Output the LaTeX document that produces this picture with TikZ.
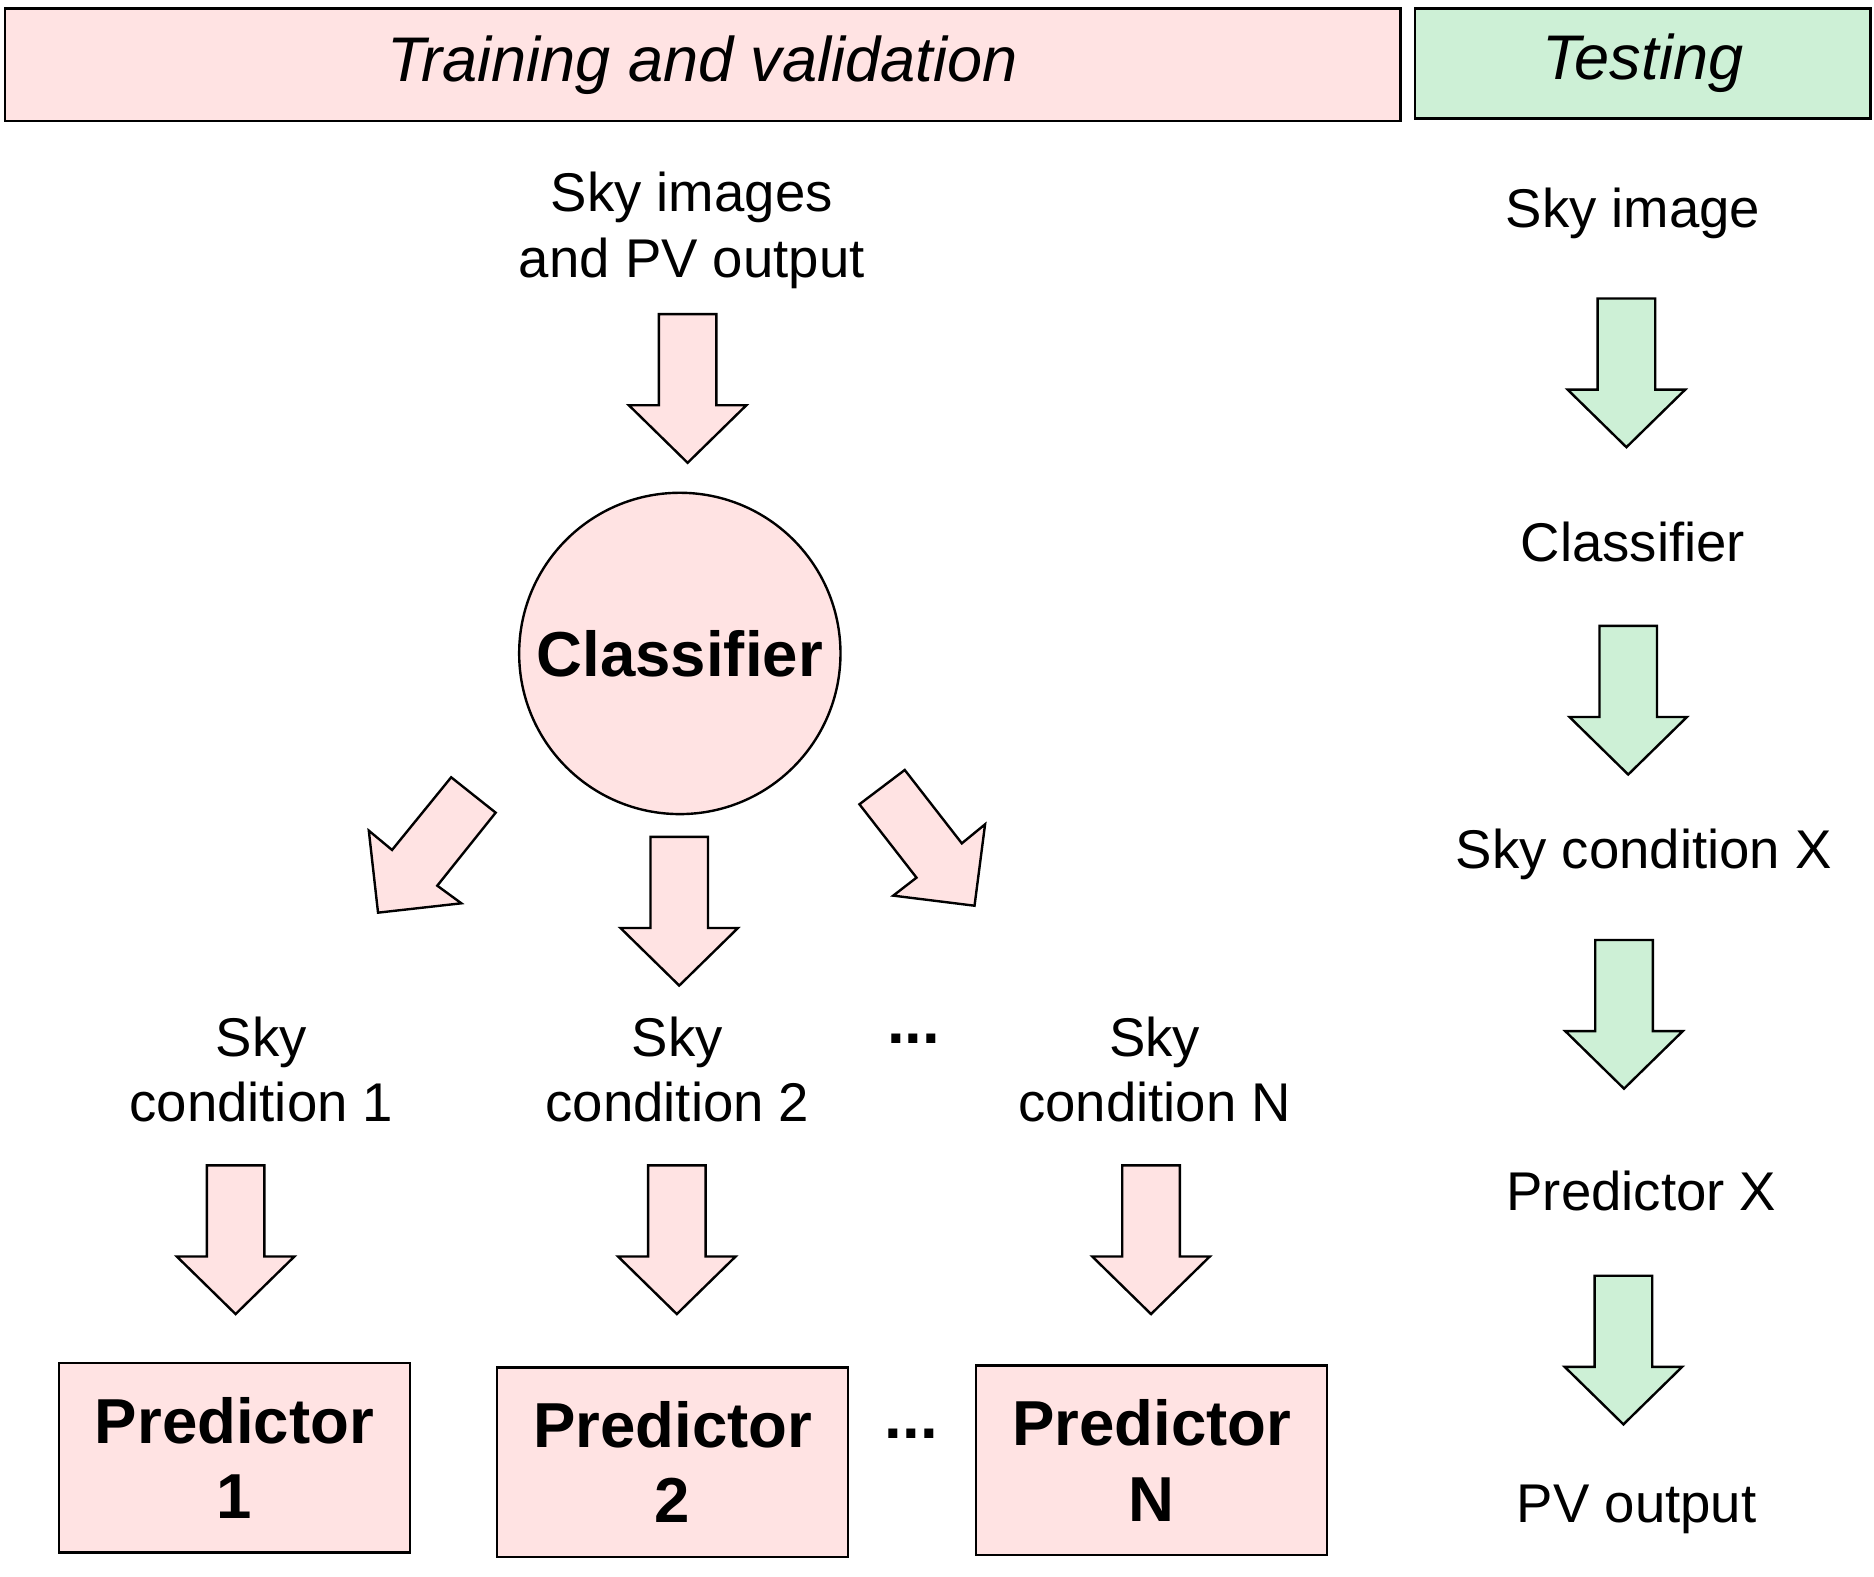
\documentclass[tikz,border=0pt]{standalone}
\usepackage{fontspec}
\setmainfont{Liberation Sans}
\definecolor{pinkfill}{HTML}{FFE3E3}
\definecolor{greenfill}{HTML}{CDF0D6}
\begin{document}
\begin{tikzpicture}[x=0.5pt,y=-0.5pt,
  outline/.style={draw=black, line width=1pt, line join=miter},
  txt/.style={font=\fontsize{22.75}{27.5}\selectfont, align=center, inner sep=0pt},
  boldtxt/.style={font=\fontsize{26.5}{31.5}\selectfont\bfseries, align=center, inner sep=0pt},
  hdr/.style={outline, inner sep=0pt, font=\fontsize{26.3}{32}\selectfont\itshape},
  predbox/.style={outline, fill=pinkfill, minimum width=146.5pt, minimum height=79pt, inner sep=0pt,
     font=\fontsize{26.5}{31.5}\selectfont\bfseries, align=center},
  blockarrow/.pic={\draw[outline, fill=#1] (-24,0) -- (24,0) -- (24,76) -- (49,76) -- (0,124) -- (-49,76) -- (-24,76) -- cycle;}
]
\useasboundingbox (0,0) rectangle (1563,1314.5);

% headers
\node[hdr, fill=pinkfill, minimum width=582pt, minimum height=47pt] (hdrtrain) at (586,54) {Training and validation};
\node[hdr, fill=greenfill, minimum width=190pt, minimum height=46pt] (hdrtest) at (1370,53) {Testing};

% training column
\node[txt] (input) at (577,192) {Sky images\\and PV output};
\pic (arrin) at (573.5,262) {blockarrow=pinkfill};
\node[outline, circle, fill=pinkfill, minimum size=134pt, inner sep=0pt,
      font=\fontsize{26.5}{31.5}\selectfont\bfseries] (classifier) at (567,545) {Classifier};

% diagonal arrows
\draw[outline, fill=pinkfill] (376.3,648.3) -- (413.4,677.8) -- (364.7,738.7) -- (384.8,753.4)
   -- (315.3,761.2) -- (307.6,692.8) -- (327,708.9) -- cycle;
\pic (arrmid) at (566.5,698) {blockarrow=pinkfill};
\draw[outline, fill=pinkfill] (716.8,670.8) -- (754.6,642.2) -- (802.2,703.4) -- (821.6,687.5)
   -- (812.8,755.4) -- (745,747) -- (764.4,732) -- cycle;

\node[txt] (cond1) at (218,892) {Sky\\condition 1};
\node[txt] (cond2) at (565,892) {Sky\\condition 2};
\node[boldtxt] (dots1) at (762,866) {...};
\node[txt] (condN) at (963,892) {Sky\\condition N};

\pic (arrc1) at (196.5,972) {blockarrow=pinkfill};
\pic (arrc2) at (564.5,972) {blockarrow=pinkfill};
\pic (arrcN) at (960,972) {blockarrow=pinkfill};

\node[predbox] (pred1) at (195.5,1216) {Predictor\\1};
\node[predbox] (pred2) at (561,1219.5) {Predictor\\2};
\node[boldtxt] (dots2) at (760,1196) {...};
\node[predbox] (predN) at (960.5,1218) {Predictor\\N};

% testing column
\node[txt] (tsky) at (1362,178) {Sky image};
\pic (tarr1) at (1356.5,249) {blockarrow=greenfill};
\node[txt] (tclass) at (1362,452) {Classifier};
\pic (tarr2) at (1358,522) {blockarrow=greenfill};
\node[txt] (tcond) at (1371,713) {Sky condition X};
\pic (tarr3) at (1354.5,784) {blockarrow=greenfill};
\node[txt] (tpred) at (1369,993) {Predictor X};
\pic (tarr4) at (1354,1064) {blockarrow=greenfill};
\node[txt] (tpv) at (1365,1259) {PV output};
\end{tikzpicture}
\end{document}
